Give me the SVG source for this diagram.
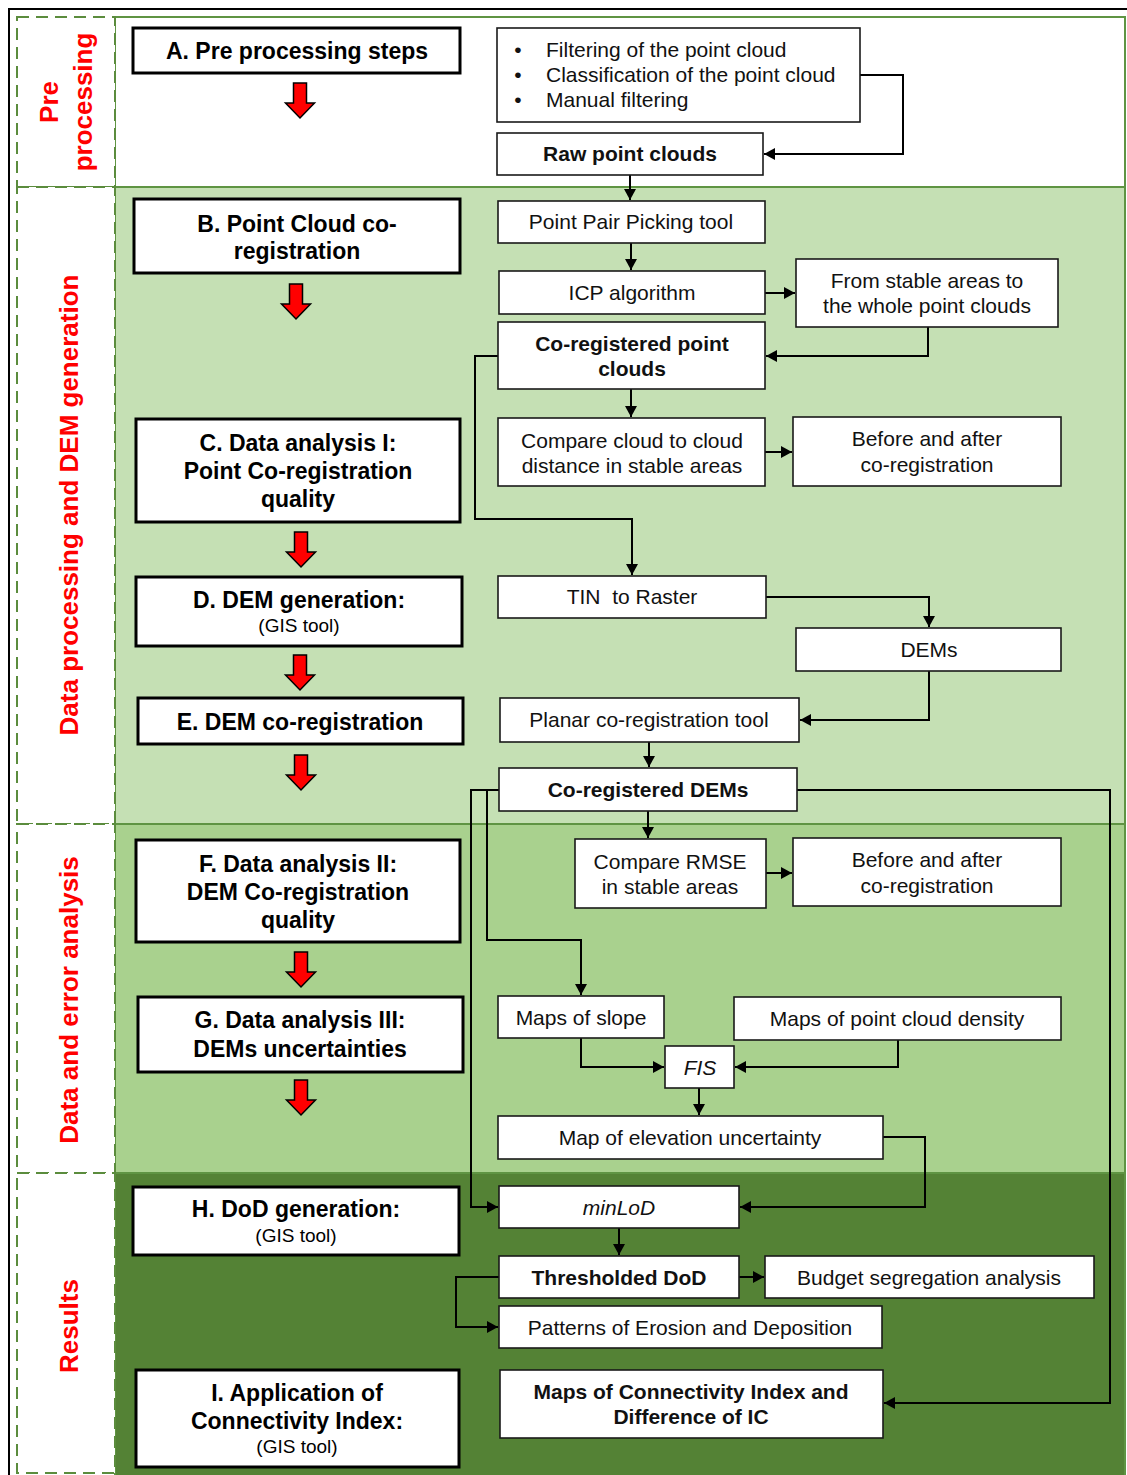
<svg xmlns="http://www.w3.org/2000/svg" width="1127" height="1475" viewBox="0 0 1127 1475">
<defs>
<style>
.lbl{font-family:"Liberation Sans",Arial,sans-serif;font-weight:bold;font-size:26px;fill:#ff0000;text-anchor:middle}
.dash{fill:#ffffff;stroke:#5b8c3d;stroke-width:2;stroke-dasharray:12 7}
.sec{stroke:#5f9443;stroke-width:2}
.big rect{fill:#ffffff;stroke:#000;stroke-width:3}
.big text{font-family:"Liberation Sans",Arial,sans-serif;font-weight:bold;font-size:23px;fill:#000;text-anchor:middle}
.big text.sub{font-weight:normal;font-size:19px}
.box rect{fill:#ffffff;stroke:#1a1a1a;stroke-width:1.6}
.box text{font-family:"Liberation Sans",Arial,sans-serif;font-size:21px;fill:#111;text-anchor:middle}
.box text.b{font-weight:bold}
.box text.i{font-style:italic}
.box text.l{text-anchor:start}
.red{fill:#ff0000;stroke:#000;stroke-width:1.5;stroke-linejoin:miter}
#connectors path{fill:none;stroke:#000;stroke-width:2;marker-end:url(#ah)}
</style>
<marker id="ah" markerUnits="userSpaceOnUse" markerWidth="11" markerHeight="12" refX="11" refY="6" orient="auto">
<path d="M0,0 L11,6 L0,12 Z" fill="#000"/>
</marker>
<path id="redarrow" class="red" d="M-6.5,0 H6.5 V20 H14.5 L0,35 L-14.5,20 H-6.5 Z"/>
</defs>

<!-- outer border -->
<rect x="9" y="9" width="1130" height="1475" fill="#ffffff" stroke="#000" stroke-width="2"/>

<!-- section backgrounds -->
<g id="sections">
<rect class="sec" x="115" y="17" width="1010" height="170" fill="#ffffff"/>
<rect class="sec" x="115" y="187" width="1010" height="637" fill="#c5e0b4"/>
<rect class="sec" x="115" y="824" width="1010" height="349" fill="#a9d18e"/>
<rect class="sec" x="115" y="1173" width="1010" height="310" fill="#548235"/>
<rect class="dash" x="17" y="17" width="98" height="170"/>
<rect class="dash" x="17" y="187" width="98" height="637"/>
<rect class="dash" x="17" y="824" width="98" height="349"/>
<rect class="dash" x="17" y="1173" width="98" height="300"/>
<text class="lbl" transform="translate(58,102) rotate(-90)">Pre</text>
<text class="lbl" transform="translate(92,102) rotate(-90)">processing</text>
<text class="lbl" transform="translate(78,505) rotate(-90)">Data processing and DEM generation</text>
<text class="lbl" transform="translate(78,1000) rotate(-90)">Data and error analysis</text>
<text class="lbl" transform="translate(78,1326) rotate(-90)">Results</text>
</g>

<!-- red step arrows -->
<g id="steparrows">
<use href="#redarrow" x="300" y="83"/>
<use href="#redarrow" x="296" y="284"/>
<use href="#redarrow" x="301" y="532"/>
<use href="#redarrow" x="300" y="655"/>
<use href="#redarrow" x="301" y="755"/>
<use href="#redarrow" x="301" y="952"/>
<use href="#redarrow" x="301" y="1080"/>
</g>

<!-- left main step nodes -->
<g id="A" class="big"><rect x="133" y="28" width="327" height="45"/><text x="297" y="59">A. Pre processing steps</text></g>
<g id="B" class="big"><rect x="134" y="199" width="326" height="74"/><text x="297" y="232">B. Point Cloud co-</text><text x="297" y="259">registration</text></g>
<g id="C" class="big"><rect x="136" y="419" width="324" height="103"/><text x="298" y="451">C. Data analysis I:</text><text x="298" y="479">Point Co-registration</text><text x="298" y="507">quality</text></g>
<g id="D" class="big"><rect x="136" y="577" width="326" height="69"/><text x="299" y="608">D. DEM generation:</text><text class="sub" x="299" y="632">(GIS tool)</text></g>
<g id="E" class="big"><rect x="138" y="698" width="325" height="46"/><text x="300" y="730">E. DEM co-registration</text></g>
<g id="F" class="big"><rect x="136" y="840" width="324" height="102"/><text x="298" y="872">F. Data analysis II:</text><text x="298" y="900">DEM Co-registration</text><text x="298" y="928">quality</text></g>
<g id="G" class="big"><rect x="138" y="997" width="325" height="75"/><text x="300" y="1028">G. Data analysis III:</text><text x="300" y="1057">DEMs uncertainties</text></g>
<g id="H" class="big"><rect x="133" y="1187" width="326" height="68"/><text x="296" y="1217">H. DoD generation:</text><text class="sub" x="296" y="1242">(GIS tool)</text></g>
<g id="I" class="big"><rect x="136" y="1370" width="323" height="97"/><text x="297" y="1401">I. Application of</text><text x="297" y="1429">Connectivity Index:</text><text class="sub" x="297" y="1453">(GIS tool)</text></g>

<!-- connectors -->
<g id="connectors">
<path d="M860,75 H903 V154 H764"/>
<path d="M630,175 V200"/>
<path d="M631,243 V270"/>
<path d="M765,293 H795"/>
<path d="M928,327 V356 H766"/>
<path d="M631,389 V417"/>
<path d="M765,452 H792"/>
<path d="M498,356 H475 V519 H632 V575"/>
<path d="M766,597 H929 V627"/>
<path d="M929,671 V720 H800"/>
<path d="M649,742 V767"/>
<path d="M648,811 V838"/>
<path d="M797,790 H1110 V1403 H884"/>
<path d="M499,790 H471 V1207 H498"/>
<path d="M487,790 V940 H581 V995"/>
<path d="M766,873 H792"/>
<path d="M581,1038 V1067 H664"/>
<path d="M898,1040 V1067 H735"/>
<path d="M699,1088 V1115"/>
<path d="M883,1137 H925 V1207 H740"/>
<path d="M619,1228 V1255"/>
<path d="M739,1277 H764"/>
<path d="M499,1277 H456 V1327 H498"/>
</g>

<!-- right column nodes -->
<g id="bullets" class="box"><rect x="497" y="28" width="363" height="94"/>
<text x="518" y="57">•</text><text class="l" x="546" y="57">Filtering of the point cloud</text>
<text x="518" y="82">•</text><text class="l" x="546" y="82">Classification of the point cloud</text>
<text x="518" y="107">•</text><text class="l" x="546" y="107">Manual filtering</text></g>
<g id="raw" class="box"><rect x="497" y="133" width="266" height="42"/><text class="b" x="630" y="161">Raw point clouds</text></g>
<g id="ppp" class="box"><rect x="498" y="201" width="267" height="42"/><text x="631" y="229">Point Pair Picking tool</text></g>
<g id="icp" class="box"><rect x="499" y="271" width="266" height="43"/><text x="632" y="300">ICP algorithm</text></g>
<g id="stable" class="box"><rect x="796" y="259" width="262" height="68"/><text x="927" y="288">From stable areas to</text><text x="927" y="313">the whole point clouds</text></g>
<g id="corpc" class="box"><rect x="498" y="322" width="267" height="67"/><text class="b" x="632" y="351">Co-registered point</text><text class="b" x="632" y="376">clouds</text></g>
<g id="c2c" class="box"><rect x="498" y="418" width="267" height="68"/><text x="632" y="448">Compare cloud to cloud</text><text x="632" y="473">distance in stable areas</text></g>
<g id="ba1" class="box"><rect x="793" y="417" width="268" height="69"/><text x="927" y="446">Before and after</text><text x="927" y="472">co-registration</text></g>
<g id="tin" class="box"><rect x="498" y="576" width="268" height="42"/><text x="632" y="604" xml:space="preserve">TIN  to Raster</text></g>
<g id="dems" class="box"><rect x="796" y="628" width="265" height="43"/><text x="929" y="657">DEMs</text></g>
<g id="planar" class="box"><rect x="500" y="698" width="299" height="44"/><text x="649" y="727">Planar co-registration tool</text></g>
<g id="cordem" class="box"><rect x="499" y="768" width="298" height="43"/><text class="b" x="648" y="797">Co-registered DEMs</text></g>
<g id="rmse" class="box"><rect x="575" y="839" width="191" height="69"/><text x="670" y="869">Compare RMSE</text><text x="670" y="894">in stable areas</text></g>
<g id="ba2" class="box"><rect x="793" y="838" width="268" height="68"/><text x="927" y="867">Before and after</text><text x="927" y="893">co-registration</text></g>
<g id="slope" class="box"><rect x="498" y="996" width="166" height="42"/><text x="581" y="1025">Maps of slope</text></g>
<g id="density" class="box"><rect x="734" y="997" width="327" height="43"/><text x="897" y="1026">Maps of point cloud density</text></g>
<g id="fis" class="box"><rect x="665" y="1046" width="69" height="42"/><text class="i" x="700" y="1075">FIS</text></g>
<g id="elev" class="box"><rect x="498" y="1116" width="385" height="43"/><text x="690" y="1145">Map of elevation uncertainty</text></g>
<g id="minlod" class="box"><rect x="499" y="1186" width="240" height="42"/><text class="i" x="619" y="1215">minLoD</text></g>
<g id="thdod" class="box"><rect x="499" y="1256" width="240" height="42"/><text class="b" x="619" y="1285">Thresholded DoD</text></g>
<g id="budget" class="box"><rect x="765" y="1256" width="329" height="42"/><text x="929" y="1285">Budget segregation analysis</text></g>
<g id="patterns" class="box"><rect x="499" y="1306" width="383" height="42"/><text x="690" y="1335">Patterns of Erosion and Deposition</text></g>
<g id="ic" class="box"><rect x="500" y="1370" width="383" height="68"/><text class="b" x="691" y="1399">Maps of Connectivity Index and</text><text class="b" x="691" y="1424">Difference of IC</text></g>
</svg>
